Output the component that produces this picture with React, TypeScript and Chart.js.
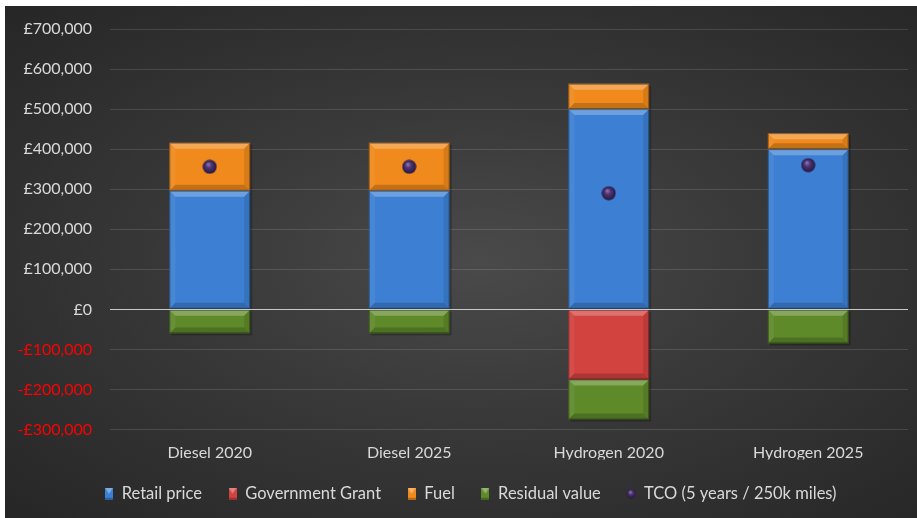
import React, { useEffect, useRef } from "react";
import { Chart, registerables } from "chart.js";

Chart.register(...registerables);

const categories = ["Diesel 2020", "Diesel 2025", "Hydrogen 2020", "Hydrogen 2025"];
const retailPrice = [296000, 296000, 500000, 400000];
const governmentGrant = [0, 0, -175000, 0];
const fuel = [120000, 120000, 63000, 40000];
const residualValue = [-60000, -60000, -100000, -85000];
const tco = [356000, 356000, 290000, 360000];
const yTicks = { min: -300000, max: 700000, step: 100000 };

const FONT = "Lato, 'Open Sans', sans-serif";

function makeSphere(d: number) {
  const c = document.createElement("canvas");
  c.width = d;
  c.height = d;
  const ctx = c.getContext("2d")!;
  const r = d / 2;
  const g = ctx.createRadialGradient(r * 0.8, r * 0.65, 0.5, r, r, r);
  g.addColorStop(0, "#8c72b4");
  g.addColorStop(0.35, "#4e3575");
  g.addColorStop(1, "#23143a");
  ctx.fillStyle = g;
  ctx.beginPath();
  ctx.arc(r, r, r - 0.5, 0, Math.PI * 2);
  ctx.fill();
  return c;
}

function makeBox(color: string, w: number, h: number) {
  const c = document.createElement("canvas");
  c.width = w;
  c.height = h;
  const ctx = c.getContext("2d")!;
  ctx.fillStyle = color;
  ctx.fillRect(0, 0, w, h);
  ctx.fillStyle = "rgba(255,255,255,0.35)";
  ctx.beginPath();
  ctx.moveTo(0, 0);
  ctx.lineTo(w, 0);
  ctx.lineTo(w / 2, h / 2);
  ctx.closePath();
  ctx.fill();
  ctx.fillStyle = "rgba(0,0,0,0.25)";
  ctx.fillRect(0, h - 2, w, 2);
  return c;
}

const COLORS = {
  retail: "#3d80d3",
  grant: "#d2423f",
  fuel: "#f08a1c",
  residual: "#5f8a2a",
};

const bevelPlugin = {
  id: "bevel",
  afterLayout(chart: any) {
    if (chart.legend) {
      chart.legend.left += 14;
      chart.legend.right += 14;
    }
  },
  afterDatasetDraw(chart: any, args: any) {
    const meta = args.meta;
    if (meta.type !== "bar") return;
    const ctx = chart.ctx;
    ctx.save();
    meta.data.forEach((el: any) => {
      const p = el.getProps(["x", "y", "base", "width"], true);
      const l = p.x - p.width / 2;
      const r = p.x + p.width / 2;
      const t = Math.min(p.y, p.base);
      const b = Math.max(p.y, p.base);
      const h = b - t;
      if (h < 1) return;
      const bv = Math.min(6, h / 2);
      ctx.fillStyle = "rgba(255,255,255,0.25)";
      ctx.beginPath();
      ctx.moveTo(l, t);
      ctx.lineTo(r, t);
      ctx.lineTo(r - bv, t + bv);
      ctx.lineTo(l + bv, t + bv);
      ctx.closePath();
      ctx.fill();
      ctx.fillStyle = "rgba(0,0,0,0.18)";
      ctx.beginPath();
      ctx.moveTo(l, b);
      ctx.lineTo(r, b);
      ctx.lineTo(r - bv, b - bv);
      ctx.lineTo(l + bv, b - bv);
      ctx.closePath();
      ctx.fill();
      ctx.fillStyle = "rgba(255,255,255,0.06)";
      ctx.beginPath();
      ctx.moveTo(l, t);
      ctx.lineTo(l + bv, t + bv);
      ctx.lineTo(l + bv, b - bv);
      ctx.lineTo(l, b);
      ctx.closePath();
      ctx.fill();
      ctx.fillStyle = "rgba(0,0,0,0.1)";
      ctx.beginPath();
      ctx.moveTo(r, t);
      ctx.lineTo(r - bv, t + bv);
      ctx.lineTo(r - bv, b - bv);
      ctx.lineTo(r, b);
      ctx.closePath();
      ctx.fill();
      ctx.strokeStyle = "rgba(0,0,0,0.35)";
      ctx.lineWidth = 1;
      ctx.strokeRect(l + 0.5, t + 0.5, p.width - 1, h - 1);
    });
    ctx.restore();
  },
  afterDatasetsDraw(chart: any) {
    const y = chart.scales.y;
    const area = chart.chartArea;
    const py = Math.round(y.getPixelForValue(0)) + 0.5;
    const ctx = chart.ctx;
    ctx.save();
    ctx.strokeStyle = "#c8c8c8";
    ctx.lineWidth = 1;
    ctx.beginPath();
    ctx.moveTo(area.left, py);
    ctx.lineTo(area.right, py);
    ctx.stroke();
    ctx.restore();
  },
};

const shadowPlugin = {
  id: "shadow",
  beforeDatasetsDraw(chart: any) {
    const ctx = chart.ctx;
    ctx.save();
    chart.getSortedVisibleDatasetMetas().forEach((meta: any) => {
      if (meta.type !== "bar") return;
      meta.data.forEach((el: any) => {
        const p = el.getProps(["x", "y", "base", "width"], true);
        const t = Math.min(p.y, p.base);
        const h = Math.abs(p.y - p.base);
        if (h < 1) return;
        ctx.fillStyle = "rgba(0,0,0,0.25)";
        ctx.fillRect(p.x - p.width / 2 + 2, t + 2, p.width, h);
      });
    });
    ctx.restore();
  },
};

export default function App() {
  const ref = useRef<HTMLCanvasElement>(null);

  useEffect(() => {
    if (!ref.current) return;
    const sphere = makeSphere(15);
    const sphereLegend = makeSphere(10);
    const legendBoxes: Record<string, HTMLCanvasElement> = {
      "Retail price": makeBox(COLORS.retail, 8, 12),
      "Government Grant": makeBox(COLORS.grant, 8, 12),
      Fuel: makeBox(COLORS.fuel, 8, 12),
      "Residual value": makeBox(COLORS.residual, 8, 12),
      "TCO (5 years / 250k miles)": sphereLegend,
    };
    const barCommon = {
      type: "bar" as const,
      barPercentage: 0.81,
      categoryPercentage: 0.5,
      stack: "cost",
      borderWidth: 0,
    };
    const chart = new Chart(ref.current, {
      type: "bar",
      data: {
        labels: categories,
        datasets: [
          { ...barCommon, label: "Retail price", data: retailPrice, backgroundColor: COLORS.retail },
          { ...barCommon, label: "Government Grant", data: governmentGrant, backgroundColor: COLORS.grant },
          { ...barCommon, label: "Fuel", data: fuel, backgroundColor: COLORS.fuel },
          { ...barCommon, label: "Residual value", data: residualValue, backgroundColor: COLORS.residual },
          {
            type: "line",
            label: "TCO (5 years / 250k miles)",
            data: tco,
            stack: "tco",
            order: -1,
            showLine: false,
            pointStyle: sphere,
            pointRadius: 8,
            backgroundColor: "#4e3575",
            borderColor: "#4e3575",
          } as any,
        ],
      },
      options: {
        animation: false,
        responsive: false,
        maintainAspectRatio: false,
        layout: { padding: { top: 23, right: 9, left: 0, bottom: 6 } },
        plugins: {
          tooltip: { enabled: false },
          legend: {
            position: "bottom",
            labels: {
              color: "#d9d9d9",
              font: { family: FONT, size: 16.5 },
              usePointStyle: true,
              boxWidth: 9,
              boxHeight: 12,
              padding: 26,
              sort: (a: any, b: any) => a.datasetIndex - b.datasetIndex,
              generateLabels: (chart: any) => {
                const items = Chart.defaults.plugins.legend.labels.generateLabels(chart);
                return items.map((it: any) => ({
                  ...it,
                  pointStyle: legendBoxes[it.text],
                  fontColor: "#d9d9d9",
                }));
              },
            },
          },
        },
        scales: {
          x: {
            stacked: true,
            grid: { display: false, drawTicks: false },
            border: { display: false },
            ticks: { color: "#d9d9d9", font: { family: FONT, size: 16 }, padding: 14 },
            afterFit: (axis: any) => {
              axis.height = 30;
            },
          },
          y: {
            stacked: true,
            min: yTicks.min,
            max: yTicks.max,
            border: { display: false },
            grid: {
              drawTicks: false,
              color: (c: any) => (c.tick && c.tick.value === 0 ? "rgba(0,0,0,0)" : "rgba(255,255,255,0.13)"),
              lineWidth: 1,
            },
            ticks: {
              stepSize: yTicks.step,
              padding: 18,
              font: { family: FONT, size: 16 },
              color: (c: any) => (c.tick && c.tick.value < 0 ? "#ff0000" : "#d9d9d9"),
              callback: (v: any) => {
                const n = Number(v);
                const s = "£" + Math.abs(n).toLocaleString("en-GB");
                return n < 0 ? "-" + s : s;
              },
            },
            afterFit: (axis: any) => {
              axis.width = 105;
              axis.paddingTop = 0;
              axis.paddingBottom = 0;
            },
          },
        },
      },
      plugins: [shadowPlugin, bevelPlugin],
    } as any);
    return () => chart.destroy();
  }, []);

  return (
    <div style={{ position: "fixed", left: 0, top: 0, width: 917, height: 518, background: "#ffffff" }}>
      <div
        style={{
          position: "absolute",
          left: 5,
          top: 6,
          width: 912,
          height: 512,
          background: "radial-gradient(ellipse at 52% 50%, #4a4a4a 0%, #3a3a3a 40%, #262626 100%)",
        }}
      >
        <canvas ref={ref} width={912} height={512} style={{ display: "block" }} />
      </div>
    </div>
  );
}
